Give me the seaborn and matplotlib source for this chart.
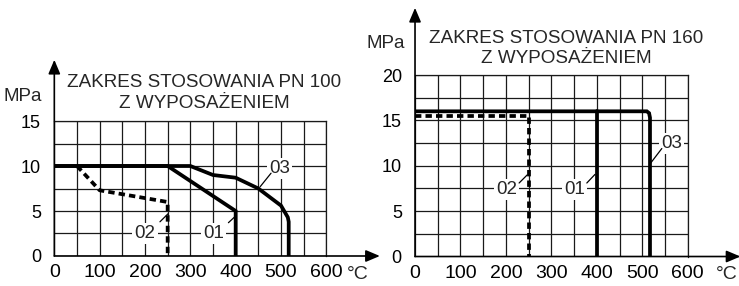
import numpy as np
import seaborn as sns
import matplotlib.pyplot as plt
from matplotlib.ticker import MultipleLocator

# dane (temperatura w °C, ciśnienie w MPa)
# PN 100
pn100_01_t = [0, 250, 400, 400]
pn100_01_p = [10, 10, 5, 0]
pn100_02_t = [50, 100, 250, 250]
pn100_02_p = [10, 7.3, 6.0, 0]
pn100_03_t = [0, 300, 350, 400, 450, 500, 515, 517, 517]
pn100_03_p = [10, 10, 9.0, 8.7, 7.5, 5.6, 4.3, 3.8, 0]

# PN 160
pn160_01_t = [400, 400]
pn160_01_p = [16, 0]
pn160_02_t = [0, 250, 250]
pn160_02_p = [15.5, 15.5, 0]
pn160_03_t = [0, 510, 515, 517, 517]
pn160_03_p = [16, 16, 15.8, 15.3, 0]

x_ticks = [0, 100, 200, 300, 400, 500, 600]
y_ticks_100 = [0, 5, 10, 15]
y_ticks_160 = [0, 5, 10, 15, 20]

sns.set_style("white")
plt.rcParams['font.family'] = ['Liberation Sans', 'DejaVu Sans']

fig = plt.figure(figsize=(7.39, 2.86), dpi=100)
ax1 = fig.add_axes([0.0735, 0.1049, 0.3681, 0.4720])
ax2 = fig.add_axes([0.5616, 0.1031, 0.3690, 0.6346])

LW = 2.7


def setup(ax, ymax, yticks, ytip, xtip):
    ax.set_xlim(0, 600)
    ax.set_ylim(0, ymax)
    ax.set_xticks(x_ticks)
    ax.set_yticks(yticks)
    ax.xaxis.set_minor_locator(MultipleLocator(50))
    ax.yaxis.set_minor_locator(MultipleLocator(2.5))
    ax.grid(which='both', color='#1a1a1a', lw=0.9)
    ax.set_axisbelow(True)
    for s in ['top', 'right']:
        ax.spines[s].set_linewidth(0.9)
        ax.spines[s].set_color('#1a1a1a')
    for s in ['left', 'bottom']:
        ax.spines[s].set_visible(False)
    ax.tick_params(which='minor', length=0)
    ax.tick_params(axis='x', which='major', length=3, width=0.9, pad=3,
                   labelsize=14, colors='black')
    ax.tick_params(axis='y', which='major', length=3, width=0.9, pad=6.5,
                   labelsize=13, colors='black')
    ax.set_xlabel('')
    ax.set_ylabel('')
    arrow = dict(arrowstyle='-|>,head_length=0.85,head_width=0.36',
                 color='black', lw=1.2, shrinkA=0, shrinkB=0, mutation_scale=10)
    ax.annotate('', xy=(0, ytip), xytext=(0, 0), arrowprops=arrow,
                annotation_clip=False)
    ax.annotate('', xy=(xtip, 0), xytext=(0, 0), arrowprops=arrow,
                annotation_clip=False)


def curve(ax, t, p, dashed=False):
    ls = (0, (1.7, 1.1)) if dashed else '-'
    sns.lineplot(x=t, y=p, ax=ax, sort=False, estimator=None, color='black',
                 lw=LW, linestyle=ls, zorder=3)
    ax.lines[-1].set_solid_joinstyle('miter')


def label(ax, txt, pos, start, end):
    ax.text(pos[0], pos[1], txt, ha='center', va='center', fontsize=13.5,
            bbox=dict(facecolor='white', edgecolor='none', pad=1.5), zorder=4)
    ax.annotate('', xy=end, xytext=start,
                arrowprops=dict(arrowstyle='-', lw=0.9, color='black',
                                shrinkA=0, shrinkB=0), zorder=4)


# PN 100
setup(ax1, 15, y_ticks_100, 21.8, 718)
curve(ax1, pn100_02_t, pn100_02_p, dashed=True)
curve(ax1, pn100_01_t, pn100_01_p)
curve(ax1, pn100_03_t, pn100_03_p)
label(ax1, '02', (200, 2.5), (233, 3.8), (251, 4.7))
label(ax1, '01', (351, 2.5), (384, 3.7), (399, 4.4))
label(ax1, '03', (496, 9.75), (478, 9.2), (454, 7.7))
ax1.text(330, 19.3, 'ZAKRES STOSOWANIA PN 100', ha='center', va='center',
         fontsize=13.6)
ax1.text(330, 16.9, 'Z WYPOSAŻENIEM', ha='center', va='center', fontsize=13.6)
ax1.text(-69, 17.7, 'MPa', ha='center', va='center', fontsize=13.5)
ax1.text(670, -2.1, '°C', ha='center', va='center', fontsize=14)

# PN 160
setup(ax2, 20, y_ticks_160, 27.4, 716)
curve(ax2, pn160_02_t, pn160_02_p, dashed=True)
curve(ax2, pn160_01_t, pn160_01_p)
curve(ax2, pn160_03_t, pn160_03_p)
label(ax2, '02', (202, 7.4), (229, 8.1), (247, 9.0))
label(ax2, '01', (351, 7.4), (378, 8.1), (396, 9.05))
label(ax2, '03', (565, 12.5), (543, 11.9), (517, 10.2))
ax2.text(333, 24.0, 'ZAKRES STOSOWANIA PN 160', ha='center', va='center',
         fontsize=13.6)
ax2.text(333, 21.8, 'Z WYPOSAŻENIEM', ha='center', va='center', fontsize=13.6)
ax2.text(-64, 23.5, 'MPa', ha='center', va='center', fontsize=13.5)
ax2.text(685, -2.0, '°C', ha='center', va='center', fontsize=14)

fig.savefig('out.png', dpi=100)
